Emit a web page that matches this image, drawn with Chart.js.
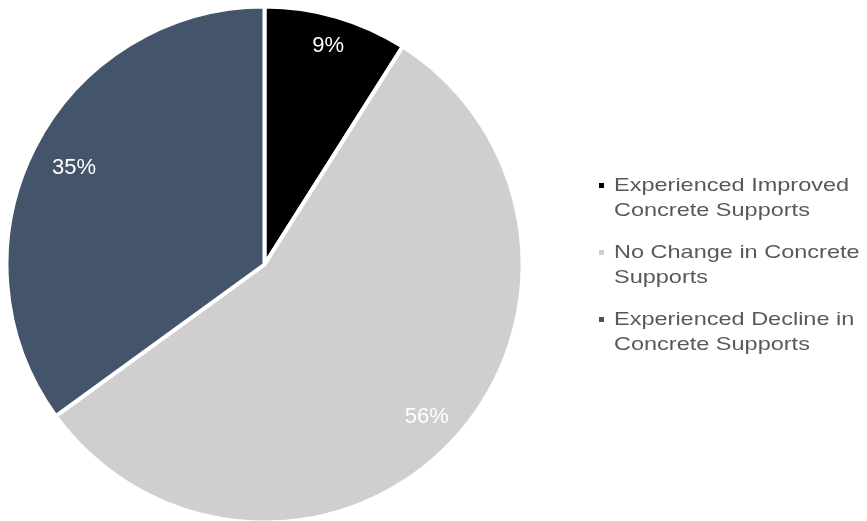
<!DOCTYPE html>
<html>
<head>
<meta charset="utf-8">
<script src="https://cdn.jsdelivr.net/npm/chart.js@4.4.1/dist/chart.umd.min.js"></script>
<style>
  html, body { margin: 0; padding: 0; background: #ffffff; }
  #wrap { width: 867px; height: 521px; }
</style>
</head>
<body>
<div id="wrap"><canvas id="pie" width="867" height="521"></canvas></div>
<script>
const categories = [
    ['Experienced Improved', 'Concrete Supports'],
    ['No Change in Concrete', 'Supports'],
    ['Experienced Decline in', 'Concrete Supports']
];
const shares = [9, 56, 35];
const sliceColors = ['#000000', '#D0CECE', '#44546A'];

// percentage text inside each slice
const sliceLabels = {
    id: 'sliceLabels',
    afterDatasetsDraw(chart, args, opts) {
        const ctx = chart.ctx;
        const meta = chart.getDatasetMeta(0);
        ctx.save();
        ctx.font = opts.font;
        ctx.fillStyle = opts.color;
        ctx.textAlign = 'center';
        ctx.textBaseline = 'middle';
        meta.data.forEach((arc, i) => {
            const p = arc.getProps(['x', 'y', 'startAngle', 'endAngle'], true);
            const mid = (p.startAngle + p.endAngle) / 2;
            const r = opts.radius * opts.fractions[i];
            ctx.fillText(shares[i] + '%', p.x + Math.cos(mid) * r, p.y + Math.sin(mid) * r);
        });
        ctx.restore();
    }
};

// legend on the right: wrapped labels, small square markers, wide text
const sideLegend = {
    id: 'sideLegend',
    afterDraw(chart, args, opts) {
        const ctx = chart.ctx;
        ctx.save();
        ctx.font = opts.font;
        ctx.textBaseline = 'alphabetic';
        ctx.textAlign = 'left';
        chart.data.labels.forEach((lines, i) => {
            const top = opts.y + i * opts.itemGap;
            ctx.fillStyle = sliceColors[i];
            ctx.fillRect(opts.x, top - 7.5, 5, 5);
            ctx.fillStyle = opts.color;
            lines.forEach((line, j) => {
                ctx.save();
                ctx.translate(opts.x + 15, top + j * opts.lineHeight);
                ctx.scale(opts.stretch, 1);
                ctx.fillText(line, 0, 0);
                ctx.restore();
            });
        });
        ctx.restore();
    }
};

new Chart(document.getElementById('pie'), {
    type: 'pie',
    data: {
        labels: categories,
        datasets: [{
            data: shares,
            backgroundColor: sliceColors,
            borderColor: '#ffffff',
            borderWidth: 4,
            radius: 258,
            clip: false
        }]
    },
    options: {
        responsive: false,
        animation: false,
        events: [],
        layout: { padding: { left: 8, right: 346, top: 8, bottom: 0 } },
        plugins: {
            legend: { display: false },
            tooltip: { enabled: false },
            sliceLabels: {
                font: '22px "Liberation Sans", Arial, sans-serif',
                color: '#ffffff',
                radius: 256,
                fractions: [0.89, 0.87, 0.835]
            },
            sideLegend: {
                x: 599,
                y: 190.5,
                itemGap: 67,
                lineHeight: 25.5,
                font: '18.5px "Liberation Sans", Arial, sans-serif',
                stretch: 1.27,
                color: '#595959'
            }
        }
    },
    plugins: [sliceLabels, sideLegend]
});
</script>
</body>
</html>
